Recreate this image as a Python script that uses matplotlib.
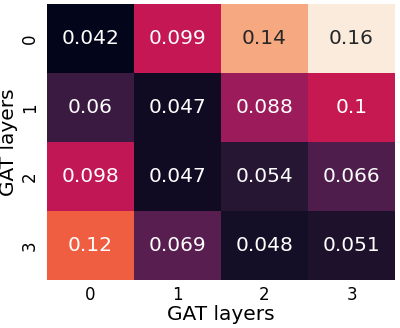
import matplotlib
matplotlib.use("Agg")
import matplotlib.pyplot as plt
import seaborn as sns
import numpy as np

# MSE per (row layers, col layers)
layers = [0, 1, 2, 3]
row0 = [0.042, 0.099, 0.14, 0.16]
row1 = [0.06, 0.047, 0.088, 0.1]
row2 = [0.098, 0.047, 0.054, 0.066]
row3 = [0.12, 0.069, 0.048, 0.051]

data = np.array([row0, row1, row2, row3])

fig = plt.figure(figsize=(4, 3.28), dpi=100)
ax = fig.add_axes([47 / 400, 1 - 280 / 328, 348 / 400, 276 / 328])

sns.heatmap(data, annot=True, cbar=False, cmap="rocket", ax=ax,
            xticklabels=layers, yticklabels=layers,
            annot_kws={"fontsize": 14.5})

ax.set_xlabel("GAT layers", fontsize=14.5, labelpad=1)
ax.set_ylabel("GAT layers", fontsize=14.5, labelpad=2)
ax.tick_params(axis="x", labelsize=12, length=0, pad=4)
ax.tick_params(axis="y", labelsize=12, length=0, pad=6)
plt.setp(ax.get_yticklabels(), rotation=90, va="center")

fig.savefig("out.png", dpi=100)
